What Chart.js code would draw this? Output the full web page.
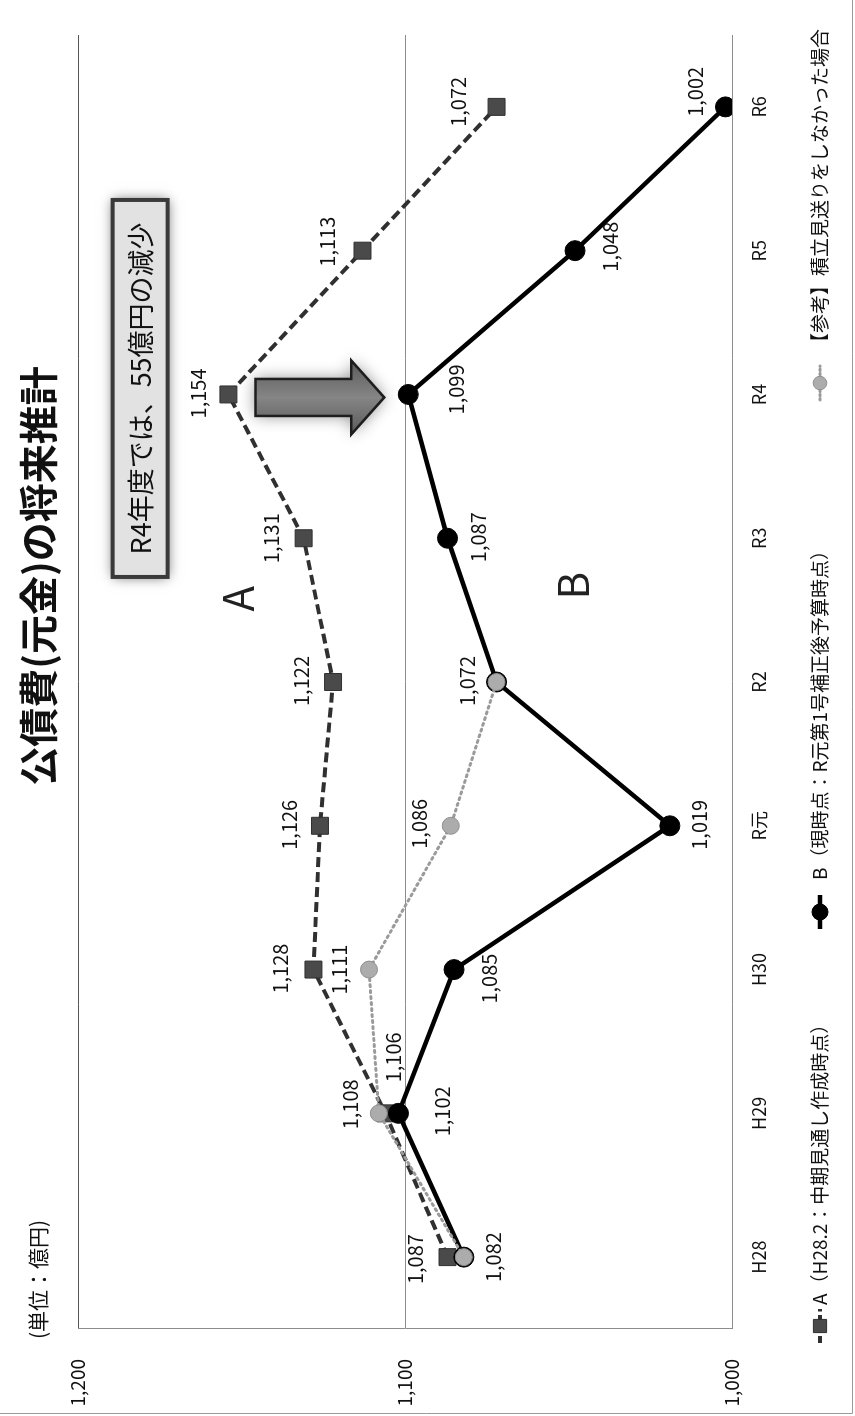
<!DOCTYPE html>
<html lang="ja">
<head>
<meta charset="utf-8">
<title>公債費(元金)の将来推計</title>
<script src="https://cdn.jsdelivr.net/npm/chart.js@4.4.1/dist/chart.umd.min.js"></script>
<style>
  html, body { margin: 0; padding: 0; background: #fff; }
  body { width: 855px; height: 1416px; overflow: hidden; position: relative; }
  /* the landscape chart is printed turned a quarter turn counter-clockwise */
  #frame {
    position: absolute; left: 0; top: 0;
    width: 1416px; height: 855px;
    transform-origin: 0 0;
    transform: translateY(1416px) rotate(-90deg);
  }
  canvas { display: block; }
</style>
</head>
<body>
<div id="frame"><canvas id="chart" width="1416" height="855"></canvas></div>
<script>
// ---- data (億円) ----
const categories = ['H28', 'H29', 'H30', 'R元', 'R2', 'R3', 'R4', 'R5', 'R6'];
const planA      = [1087, 1106, 1128, 1126, 1122, 1131, 1154, 1113, 1072];
const currentB   = [1082, 1102, 1085, 1019, 1072, 1087, 1099, 1048, 1002];
const referenceC = [1082, 1108, 1111, 1086, 1072, null, null, null, null];
const valueTicks = [1000, 1100, 1200];
const seriesNames = [
  'A（H28.2：中期見通し作成時点）',
  'B（現時点：R元第1号補正後予算時点）',
  '【参考】積立見送りをしなかった場合'
];
const titleText = '公債費(元金)の将来推計';
const unitText = '(単位：億円)';
const noteText = 'R4年度では、55億円の減少';

// ---- label placement (px offsets from each marker; null = no label) ----
const labelOffsetsA = [[-2,-32],[56,8],[1,-33],[1,-31],[1,-32],[0,-32],[1,-30],[9,-35],[5,-38]];
const labelOffsetsB = [[0,30],[2,44],[-9,35],[1,30],null,[1,31],[5,48],[4,35],[15,-30]];
const labelOffsetsC = [null,[9,-28],[0,-30],[2,-31],[1,-29],null,null,null,null];

// legend items along the bottom row: symbol centre, text start
const legendSlots = [[90, 111], [504, 536], [1033, 1064]];

const JP = '"Noto Sans CJK JP", "Noto Sans", sans-serif';
const fmt = v => v.toLocaleString('en-US');

const seriesStyles = [
  { line: '#303030', width: 4, dash: [10, 5], marker: 'rect', radius: 12, fill: '#4a4a4a', stroke: '#303030' },
  { line: '#000000', width: 4.5, dash: [], marker: 'circle', radius: 10, fill: '#000000', stroke: '#000000' },
  { line: '#9a9a9a', width: 3, dash: [2, 4], marker: 'circle', radius: 8.5, fill: '#acacac', stroke: '#8f8f8f' }
];
const seriesData = [planA, currentB, referenceC];
const seriesOffsets = [labelOffsetsA, labelOffsetsB, labelOffsetsC];
const drawOrder = [2, 1, 0];

// value labels beside the markers
const valueLabels = {
  id: 'valueLabels',
  afterDatasetsDraw(chart) {
    const ctx = chart.ctx;
    ctx.save();
    ctx.font = '20px ' + JP;
    ctx.fillStyle = '#111';
    ctx.textAlign = 'center';
    ctx.textBaseline = 'middle';
    chart.data.datasets.forEach((ds, di) => {
      const meta = chart.getDatasetMeta(di);
      const offs = seriesOffsets[di];
      meta.data.forEach((pt, i) => {
        const v = ds.data[i];
        if (v == null || !offs[i]) return;
        ctx.fillText(fmt(v), pt.x + offs[i][0], pt.y + offs[i][1]);
      });
    });
    ctx.restore();
  }
};

// arrow, callout box and the A / B tags
const annotations = {
  id: 'annotations',
  afterDatasetsDraw(chart) {
    const ctx = chart.ctx;
    const xs = chart.scales.x, ys = chart.scales.y;
    const r4 = categories.indexOf('R4');

    // downward arrow from A to B at R4
    const ax = xs.getPixelForValue(r4) - 3;
    const y0 = ys.getPixelForValue(planA[r4]) + 27;
    const y1 = ys.getPixelForValue(currentB[r4]) - 24;
    const bw = 18.5, hw = 37, hl = 33;
    ctx.save();
    ctx.beginPath();
    ctx.moveTo(ax - bw, y0);
    ctx.lineTo(ax + bw, y0);
    ctx.lineTo(ax + bw, y1 - hl);
    ctx.lineTo(ax + hw, y1 - hl);
    ctx.lineTo(ax, y1);
    ctx.lineTo(ax - hw, y1 - hl);
    ctx.lineTo(ax - bw, y1 - hl);
    ctx.closePath();
    ctx.shadowColor = 'rgba(0,0,0,0.45)';
    ctx.shadowBlur = 16;
    const g = ctx.createLinearGradient(ax - hw, 0, ax + hw, 0);
    g.addColorStop(0, '#5a5a5a');
    g.addColorStop(0.5, '#858585');
    g.addColorStop(1, '#5a5a5a');
    ctx.fillStyle = g;
    ctx.fill();
    ctx.shadowColor = 'transparent';
    ctx.lineWidth = 2.5;
    ctx.strokeStyle = '#1e1e1e';
    ctx.stroke();
    ctx.restore();

    // callout box
    const bx = xs.getPixelForValue(r4) + 6;
    const by = ys.getPixelForValue(1181);
    const w = 377, h = 55;
    ctx.save();
    ctx.shadowColor = 'rgba(0,0,0,0.6)';
    ctx.shadowBlur = 12;
    ctx.fillStyle = '#e2e2e2';
    ctx.fillRect(bx - w / 2, by - h / 2, w, h);
    ctx.shadowColor = 'transparent';
    ctx.lineWidth = 4;
    ctx.strokeStyle = '#3a3a3a';
    ctx.strokeRect(bx - w / 2, by - h / 2, w, h);
    ctx.font = '27px ' + JP;
    ctx.fillStyle = '#111';
    ctx.textAlign = 'center';
    ctx.textBaseline = 'middle';
    ctx.fillText(noteText, bx, by + 1);
    ctx.restore();

    // group tags
    ctx.save();
    ctx.font = '42px ' + JP;
    ctx.fillStyle = '#222';
    ctx.textAlign = 'center';
    ctx.textBaseline = 'middle';
    ctx.fillText('A', xs.getPixelForValue(4.58), ys.getPixelForValue(1151));
    ctx.fillText('B', xs.getPixelForValue(4.67), ys.getPixelForValue(1048.6));
    ctx.restore();
  }
};

function drawLegendSymbol(ctx, s, cx, cy) {
  ctx.save();
  ctx.beginPath();
  ctx.strokeStyle = s.line;
  ctx.lineWidth = s.width;
  ctx.setLineDash(s.dash.length ? s.dash.map(d => d * 0.7) : []);
  ctx.lineCap = s.dash.length && s.dash[0] < 4 ? 'round' : 'butt';
  ctx.moveTo(cx - 17, cy);
  ctx.lineTo(cx + 17, cy);
  ctx.stroke();
  ctx.setLineDash([]);
  ctx.fillStyle = s.fill;
  ctx.strokeStyle = s.stroke;
  ctx.lineWidth = 1;
  ctx.beginPath();
  if (s.marker === 'rect') {
    const r = s.radius * 0.55;
    ctx.rect(cx - r, cy - r, 2 * r, 2 * r);
  } else {
    ctx.arc(cx, cy, s.radius * 0.8, 0, Math.PI * 2);
  }
  ctx.fill();
  ctx.stroke();
  ctx.restore();
}

// title, unit note, legend and frame
const frameText = {
  id: 'frameText',
  afterDraw(chart) {
    const ctx = chart.ctx;
    const W = chart.width, H = chart.height;
    ctx.save();
    ctx.fillStyle = '#111';
    ctx.textBaseline = 'middle';

    ctx.font = 'bold 39px ' + JP;
    ctx.textAlign = 'center';
    ctx.fillText(titleText, 840, 38);

    ctx.font = '21px ' + JP;
    ctx.textAlign = 'left';
    ctx.fillText(unitText, 77, 38);

    // legend row
    ctx.font = '19px ' + JP;
    const ly = 820;
    seriesNames.forEach((t, i) => {
      drawLegendSymbol(ctx, seriesStyles[i], legendSlots[i][0], ly);
      ctx.fillStyle = '#111';
      ctx.textAlign = 'left';
      ctx.fillText(t, legendSlots[i][1], ly);
    });

    // outer frame edges
    ctx.strokeStyle = '#9a9a9a';
    ctx.lineWidth = 1;
    ctx.beginPath();
    ctx.moveTo(2.5, 0); ctx.lineTo(2.5, H - 2.5); ctx.lineTo(W, H - 2.5);
    ctx.stroke();
    ctx.restore();
  }
};

new Chart(document.getElementById('chart'), {
  type: 'line',
  data: {
    labels: categories,
    datasets: seriesData.map((d, i) => {
      const s = seriesStyles[i];
      return {
        label: seriesNames[i],
        data: d,
        order: drawOrder[i],
        borderColor: s.line,
        borderWidth: s.width,
        borderDash: s.dash,
        borderCapStyle: i === 2 ? 'round' : 'butt',
        tension: 0,
        fill: false,
        spanGaps: false,
        pointStyle: s.marker,
        pointRadius: s.radius,
        pointHoverRadius: s.radius,
        pointBackgroundColor: s.fill,
        pointBorderColor: s.stroke,
        pointBorderWidth: 1
      };
    })
  },
  options: {
    responsive: false,
    devicePixelRatio: 1,
    animation: false,
    events: [],
    layout: { padding: { left: 0, right: 35, top: 78, bottom: 0 } },
    plugins: {
      legend: { display: false },
      title: { display: false },
      tooltip: { enabled: false }
    },
    scales: {
      x: {
        type: 'category',
        offset: true,
        grid: { display: false, drawTicks: false },
        border: { display: false },
        ticks: { color: '#111', font: { family: JP, size: 18 }, padding: 16, maxRotation: 0 },
        afterFit(scale) { scale.height = 123; }
      },
      y: {
        type: 'linear',
        min: valueTicks[0],
        max: valueTicks[valueTicks.length - 1],
        afterBuildTicks(scale) { scale.ticks = valueTicks.map(v => ({ value: v })); },
        grid: {
          color: c => (c.tick && c.tick.value === 1200 ? '#555' : '#8c8c8c'),
          lineWidth: 1,
          drawTicks: false
        },
        border: { display: true, color: '#8c8c8c', width: 1 },
        ticks: {
          color: '#111',
          font: { family: JP, size: 19 },
          padding: 30,
          callback: v => fmt(v)
        },
        afterFit(scale) { scale.width = 87; }
      }
    }
  },
  plugins: [valueLabels, annotations, frameText]
});
</script>
</body>
</html>
